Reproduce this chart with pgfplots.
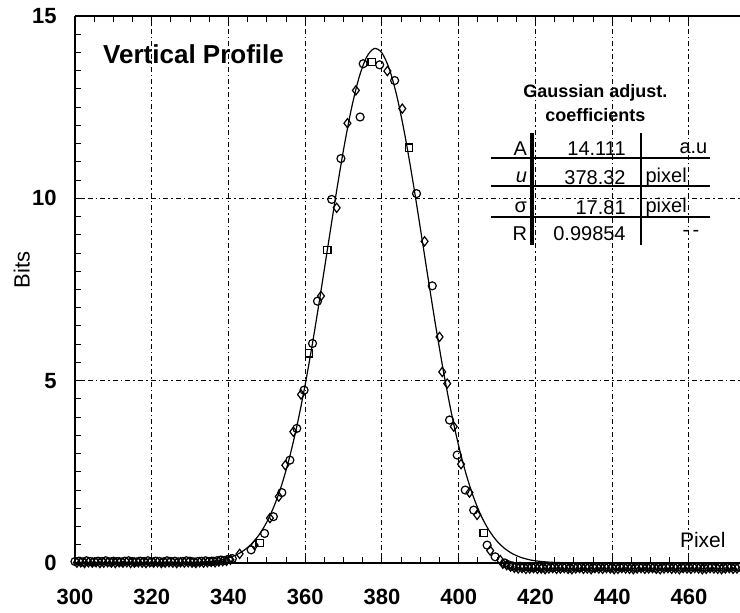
\documentclass[border=0pt]{standalone}
\usepackage{pgfplots}
\pgfplotsset{compat=1.18}
\usepackage{fontspec}
\setmainfont{Liberation Sans}
\begin{document}
\begin{tikzpicture}
\begin{axis}[
  scale only axis,
  width=332.5pt, height=273.5pt,
  xmin=300, xmax=473.3, ymin=0, ymax=15,
  axis x line=box, axis y line=left,
  axis line style={-, black, line width=0.6pt},
  xtick={300,320,...,460}, ytick={0,5,10,15},
  minor x tick num=3, minor y tick num=9,
  tick align=inside,
  major tick length=4pt, minor tick length=3pt,
  tick style={black, line width=0.5pt},
  xmajorgrids, ymajorgrids,
  grid style={black, line width=0.5pt, dash pattern=on 2.5pt off 1.5pt on 0.8pt off 1.5pt},
  /pgf/number format/assume math mode=true,
  xticklabel style={font=\bfseries\fontsize{11}{12}\selectfont, anchor=base, yshift=-21pt, inner sep=0pt},
  yticklabel style={font=\bfseries\fontsize{11}{12}\selectfont, anchor=east, xshift=-9pt, inner sep=0pt},
  ylabel={Bits},
  ylabel style={font=\fontsize{11}{12}\selectfont, at={(axis description cs:-0.08,0.536)}, anchor=center},
  clip=false,
]
% fitted Gaussian curve
\addplot[black, line width=0.6pt, smooth] coordinates {
(300,0) (320,0.0003) (326,0.002) (330,0.009) (334,0.029) (338,0.084) (340,0.138)
(342,0.221) (344,0.344) (346,0.524) (348,0.778) (350,1.126) (352,1.589)
(354,2.186) (356,2.934) (358,3.840) (360,4.898) (362,6.093) (364,7.393)
(366,8.745) (368,10.087) (370,11.344) (372,12.442) (374,13.305) (376,13.874)
(378,14.107) (380,13.986) (382,13.521) (384,12.747) (386,11.717) (388,10.503)
(390,9.179) (392,7.822) (394,6.501) (396,5.268) (398,4.161) (400,3.206)
(402,2.409) (404,1.764) (406,1.260) (408,0.878) (410,0.596) (412,0.395)
(414,0.255) (416,0.161) (418,0.099) (420,0.059) (424,0.020) (430,0.003) (440,0) (473,0)
};
% circles
\addplot[only marks, mark=o, mark size=2pt, mark options={line width=0.6pt, black}] coordinates {
(300,0.04) (301,0.05) (302,0.03) (303,0.06) (304,0.04) (305,0.03) (306,0.05) (307,0.04)
(308,0.06) (309,0.03) (310,0.05) (311,0.04) (312,0.03) (313,0.05) (314,0.06) (315,0.04)
(316,0.03) (317,0.05) (318,0.04) (319,0.06) (320,0.03) (321,0.05) (322,0.04) (323,0.03)
(324,0.06) (325,0.04) (326,0.05) (327,0.03) (328,0.04) (329,0.06) (330,0.05) (331,0.03)
(332,0.04) (333,0.05) (334,0.06) (335,0.04) (336,0.05) (337,0.06) (338,0.08) (339,0.07)
(340,0.10) (341,0.12)
(345.9,0.36) (349.4,0.81) (351.7,1.27) (353.9,1.93) (356.0,2.82) (357.8,3.69)
(359.7,4.74) (361.9,6.02) (363.2,7.18) (366.9,9.97) (369.3,11.09) (374.3,12.23)
(375.1,13.69) (379.4,13.66) (383.3,13.23) (389.0,10.13) (393.1,7.60) (397.6,3.92)
(399.6,2.96) (401.7,2.00) (403.9,1.45) (407.4,0.49) (409.5,0.17)
(412,0.00) (413,-0.05) (414,-0.08) (415,-0.10) (416,-0.09) (417,-0.11) (418,-0.10)
(419,-0.12) (420,-0.10) (421,-0.11) (422,-0.13) (423,-0.10) (424,-0.12) (425,-0.11)
(426,-0.10) (427,-0.12) (428,-0.11) (429,-0.13) (430,-0.10) (431,-0.12) (432,-0.11)
(433,-0.10) (434,-0.12) (435,-0.13) (436,-0.11) (437,-0.10) (438,-0.12) (439,-0.11)
(440,-0.13) (441,-0.10) (442,-0.12) (443,-0.11) (444,-0.10) (445,-0.12) (446,-0.13)
(447,-0.11) (448,-0.10) (449,-0.12) (450,-0.11) (451,-0.13) (452,-0.10) (453,-0.12)
(454,-0.11) (455,-0.10) (456,-0.12) (457,-0.11) (458,-0.13) (459,-0.10) (460,-0.12)
(461,-0.11) (462,-0.10) (463,-0.12) (464,-0.13) (465,-0.11) (466,-0.10) (467,-0.12)
(468,-0.11) (469,-0.13) (470,-0.10) (471,-0.12) (472,-0.11) (473,-0.12)
};
% diamonds
\addplot[only marks, mark=diamond, mark size=2.3pt, mark options={line width=0.6pt, black}] coordinates {
(300.5,0.01) (301.5,0.02) (302.5,0.00) (303.5,0.02) (304.5,0.01) (305.5,0.02)
(306.5,0.00) (307.5,0.01) (308.5,0.02) (309.5,0.01) (310.5,0.00) (311.5,0.02)
(312.5,0.01) (313.5,0.02) (314.5,0.00) (315.5,0.01) (316.5,0.02) (317.5,0.01)
(318.5,0.00) (319.5,0.02) (320.5,0.01) (321.5,0.02) (322.5,0.00) (323.5,0.01)
(324.5,0.02) (325.5,0.01) (326.5,0.00) (327.5,0.02) (328.5,0.01) (329.5,0.02)
(330.5,0.01) (331.5,0.00) (332.5,0.02) (333.5,0.01) (334.5,0.02) (335.5,0.03)
(336.5,0.02) (337.5,0.04) (338.5,0.05) (339.5,0.06) (340.5,0.09)
(342.9,0.25) (346.8,0.49) (350.8,1.23) (353.1,1.82) (354.8,2.68) (356.9,3.60)
(358.9,4.62) (364.1,7.32) (368.2,9.74) (371.0,12.06) (373.2,12.96) (381.4,13.49)
(385.3,12.46) (391.1,8.82) (395.0,6.20) (395.7,5.24) (397.0,4.92) (398.7,3.74)
(400.6,2.71) (402.8,1.93) (404.8,1.32) (408.2,0.34) (410.8,0.08)
(411.5,-0.02) (412.5,-0.06) (413.5,-0.10) (414.5,-0.13) (415.5,-0.15) (416.5,-0.14)
(417.5,-0.16) (418.5,-0.15) (419.5,-0.14) (420.5,-0.16) (421.5,-0.15) (422.5,-0.17)
(423.5,-0.15) (424.5,-0.14) (425.5,-0.16) (426.5,-0.15) (427.5,-0.14) (428.5,-0.16)
(429.5,-0.17) (430.5,-0.15) (431.5,-0.14) (432.5,-0.16) (433.5,-0.15) (434.5,-0.17)
(435.5,-0.14) (436.5,-0.15) (437.5,-0.16) (438.5,-0.14) (439.5,-0.15) (440.5,-0.17)
(441.5,-0.16) (442.5,-0.14) (443.5,-0.15) (444.5,-0.16) (445.5,-0.17) (446.5,-0.15)
(447.5,-0.14) (448.5,-0.16) (449.5,-0.15) (450.5,-0.14) (451.5,-0.16) (452.5,-0.17)
(453.5,-0.15) (454.5,-0.14) (455.5,-0.16) (456.5,-0.15) (457.5,-0.17) (458.5,-0.14)
(459.5,-0.15) (460.5,-0.16) (461.5,-0.14) (462.5,-0.15) (463.5,-0.17) (464.5,-0.16)
(465.5,-0.14) (466.5,-0.15) (467.5,-0.16) (468.5,-0.17) (469.5,-0.15) (470.5,-0.14)
(471.5,-0.16) (472.5,-0.15)
};
% squares
\addplot[only marks, mark=square, mark size=1.8pt, mark options={line width=0.6pt, black}] coordinates {
(348.1,0.54) (361.0,5.75) (365.8,8.58) (377.3,13.73) (387.0,11.39) (406.5,0.83)
};
% texts
\node[font=\bfseries\fontsize{13}{15}\selectfont, anchor=center] at (axis cs:330.9,13.95) {Vertical Profile};
\node[font=\fontsize{10.5}{12}\selectfont, anchor=center] at (axis cs:463.6,0.63) {Pixel};
% coefficient table
\node[font=\bfseries\fontsize{9}{11}\selectfont, anchor=center] at (axis cs:435.6,12.90) {Gaussian adjust.};
\node[font=\bfseries\fontsize{9}{11}\selectfont, anchor=center] at (axis cs:435.6,12.27) {coefficients};
\draw[black, line width=0.9pt] (axis cs:408.3,11.11) -- (axis cs:465.5,11.11);
\draw[black, line width=0.9pt] (axis cs:408.3,10.33) -- (axis cs:465.5,10.33);
\draw[black, line width=0.9pt] (axis cs:408.3,9.49) -- (axis cs:465.5,9.49);
\draw[black, line width=2pt] (axis cs:419.0,11.78) -- (axis cs:419.0,8.71);
\draw[black, line width=0.8pt] (axis cs:447.5,11.78) -- (axis cs:447.5,8.71);
\begin{scope}[every node/.style={font=\fontsize{10}{12}\selectfont, inner sep=0pt}]
\node[anchor=east] at (axis cs:417.9,11.37) {A};
\node[anchor=east] at (axis cs:417.9,10.58) {\textit{u}};
\node[anchor=east] at (axis cs:417.9,9.75) {σ};
\node[anchor=east] at (axis cs:417.9,9.04) {R};
\node[anchor=east] at (axis cs:443.6,11.37) {14.111};
\node[anchor=east] at (axis cs:443.6,10.58) {378.32};
\node[anchor=east] at (axis cs:443.6,9.75) {17.81};
\node[anchor=east] at (axis cs:443.6,9.04) {0.99854};
\node[anchor=east] at (axis cs:464.9,11.37) {a.u};
\node[anchor=west] at (axis cs:448.6,10.58) {pixel};
\node[anchor=west] at (axis cs:448.6,9.75) {pixel};
\node[anchor=center] at (axis cs:460.5,9.04) {-\,-};
\end{scope}
\end{axis}
\pgfresetboundingbox
\path (current axis.south west) ++(-37.5pt,-25pt) coordinate (bbA);
\path (current axis.north east) ++(0pt,8pt) coordinate (bbB);
\useasboundingbox (bbA) rectangle (bbB);
\end{tikzpicture}
\end{document}
